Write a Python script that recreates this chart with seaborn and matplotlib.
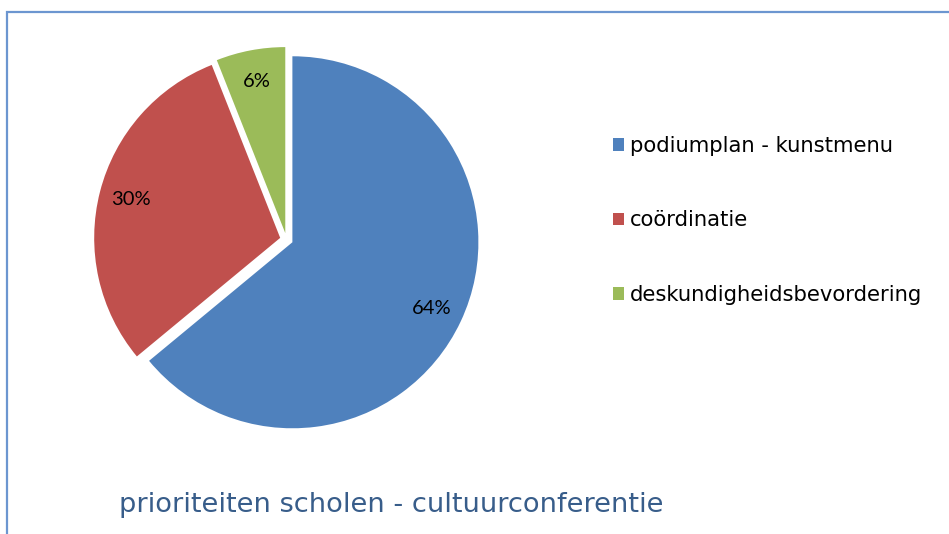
import matplotlib
matplotlib.use("Agg")
import matplotlib.pyplot as plt
import seaborn as sns
from matplotlib.patches import Rectangle

categories = ["podiumplan - kunstmenu", "coördinatie", "deskundigheidsbevordering"]
values = [64, 30, 6]
colors = ["#4F81BD", "#C0504D", "#9BBB59"]
title = "prioriteiten scholen - cultuurconferentie"

sns.set_theme(style="white")
plt.rcParams["font.family"] = ["DejaVu Sans"]
plt.rcParams["text.color"] = "black"

W, H = 949, 534
fig = plt.figure(figsize=(W / 100, H / 100), dpi=100)
fig.patch.set_facecolor("white")

# pie axes
R = 186.0
L = 1.2
cx, cy = 286.5, 239.5
side = 2 * L * R
ax = fig.add_axes([(cx - side / 2) / W, ((H - cy) - side / 2) / H, side / W, side / H])
pal = sns.color_palette(colors)
wedges, texts, autotexts = ax.pie(
    values,
    colors=pal,
    startangle=90,
    counterclock=False,
    explode=[0.035] * len(values),
    autopct=lambda p: f"{p:.0f}%",
    pctdistance=0.83,
    wedgeprops=dict(linewidth=0),
    textprops=dict(fontsize=14.5, family=["Lato", "DejaVu Sans"], color="black"),
)
ax.set_xlim(-L, L)
ax.set_ylim(-L, L)
ax.set_aspect("equal")
ax.axis("off")

# legend
leg = fig.legend(
    wedges,
    categories,
    loc="upper left",
    bbox_to_anchor=(613 / W, 1 - 136 / H),
    frameon=False,
    fontsize=15.2,
    handlelength=0.52,
    handleheight=0.52,
    handletextpad=0.3,
    labelspacing=2.58,
    borderpad=0,
    borderaxespad=0,
    labelcolor="black",
)

# title
fig.text(119 / W, 1 - 512 / H, title, fontsize=19.6, color="#385D8A",
         ha="left", va="baseline")

# border
fig.patches.append(Rectangle((6.5 / W, -0.1), 1.0, (H - 11.5) / H + 0.1,
                             transform=fig.transFigure, fill=False,
                             edgecolor="#6C96D0", linewidth=1.6))

fig.savefig("out.png", dpi=100, facecolor="white")
